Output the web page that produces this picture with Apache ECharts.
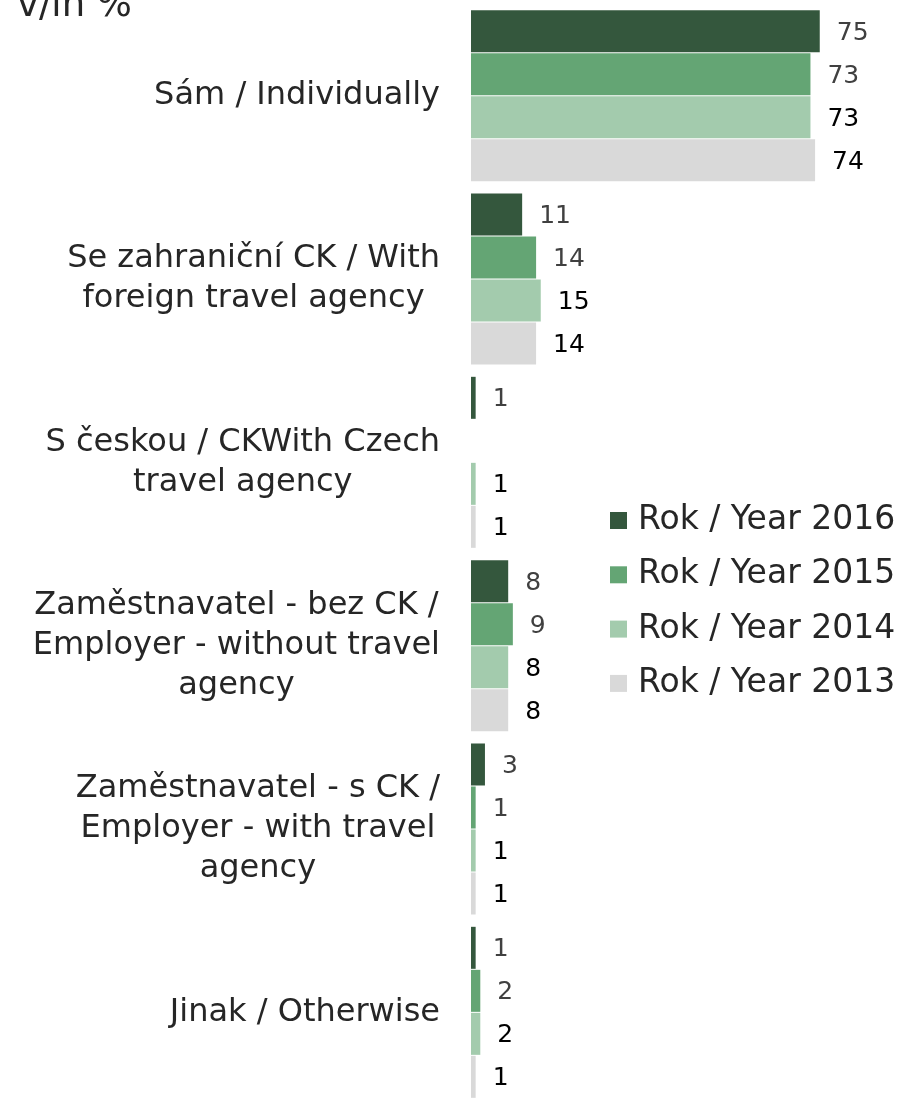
<!DOCTYPE html>
<html>
<head>
<meta charset="utf-8">
<script src="https://cdn.jsdelivr.net/npm/echarts@6/dist/echarts.min.js"></script>
<style>
  html, body { margin: 0; padding: 0; background: #fff; }
  #chart { width: 903px; height: 1104px; }
</style>
</head>
<body>
<div id="chart"></div>
<script>
// kategorie (shora dolů)
const categories = [
  'Sám / Individually',
  'Se zahraniční CK / With\nforeign travel agency',
  'S českou / CKWith Czech\ntravel agency',
  'Zaměstnavatel - bez CK /\nEmployer - without travel\nagency',
  'Zaměstnavatel - s CK /\nEmployer - with travel\nagency',
  'Jinak / Otherwise'
]

// hodnoty v %
const year2016 = [75, 11, 1, 8, 3, 1]
const year2015 = [73, 14, null, 9, 1, 2]
const year2014 = [73, 15, 1, 8, 1, 2]
const year2013 = [74, 14, 1, 8, 1, 1]

const seriesNames = ['Rok / Year 2016', 'Rok / Year 2015', 'Rok / Year 2014', 'Rok / Year 2013']
const seriesData = [year2016, year2015, year2014, year2013]
const colors = ['#34573d', '#64a574', '#a3cbad', '#d9d9d9']
const labelColors = ['#404040', '#404040', '#000000', '#000000']

const FONT = '"DejaVu Sans", Verdana, sans-serif'

const chart = echarts.init(document.getElementById('chart'))

const series = seriesNames.map((name, i) => ({
  name: name,
  type: 'bar',
  data: seriesData[i],
  barWidth: 42,
  barGap: '2.4%',
  itemStyle: { color: colors[i] },
  label: {
    show: true,
    position: 'right',
    distance: 17,
    offset: [0, 2],
    fontFamily: FONT,
    fontSize: 25,
    color: labelColors[i]
  }
}))

chart.setOption({
  animation: false,
  title: {
    text: 'v/in %',
    left: 12,
    top: -17,
    textStyle: { fontFamily: FONT, fontSize: 37, fontWeight: 'normal', color: '#262626' }
  },
  grid: { left: 471, right: 60, top: 4, bottom: -11, containLabel: false },
  legend: {
    orient: 'vertical',
    left: 605,
    top: 499,
    itemWidth: 17,
    itemHeight: 17,
    itemGap: 21.3,
    icon: 'rect',
    textStyle: { fontFamily: FONT, fontSize: 33, color: '#262626', padding: [0, 0, 0, 6] },
    data: seriesNames
  },
  xAxis: {
    type: 'value',
    min: 0,
    max: 80,
    show: false
  },
  yAxis: {
    type: 'category',
    data: categories,
    inverse: true,
    axisLine: { show: false },
    axisTick: { show: false },
    axisLabel: {
      margin: 31,
      formatter: v => v.split('\n').map(s => '{c|' + s + '}').join('\n'),
      rich: {
        c: { fontFamily: FONT, fontSize: 32, color: '#262626', align: 'center', lineHeight: 40 }
      }
    }
  },
  series: series
})
</script>
</body>
</html>
